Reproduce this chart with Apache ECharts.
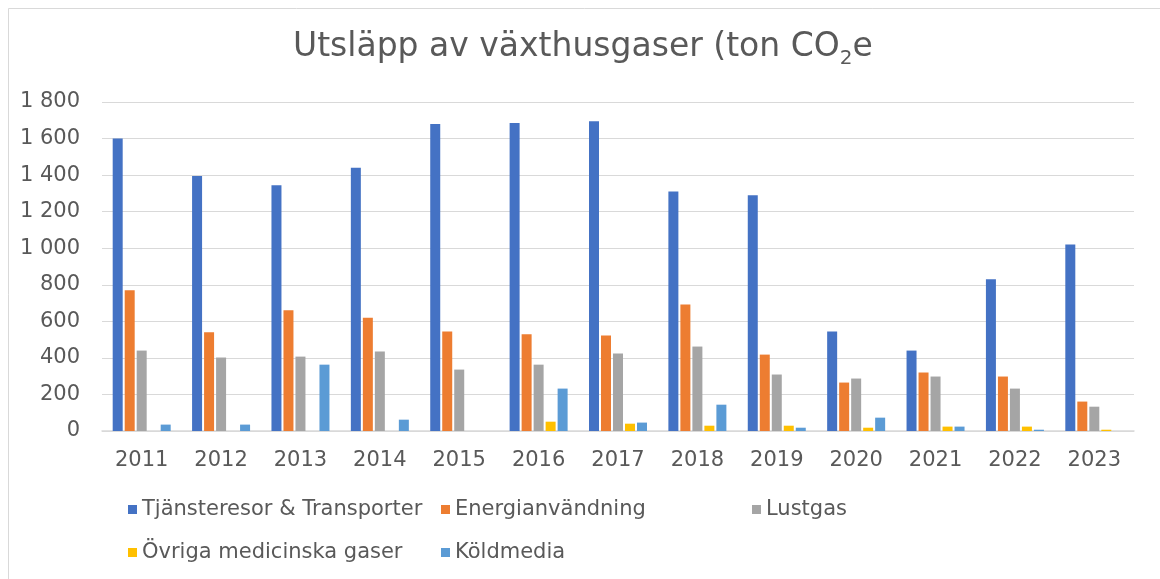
<!DOCTYPE html>
<html>
<head>
<meta charset="utf-8">
<script src="https://cdn.jsdelivr.net/npm/echarts@6/dist/echarts.min.js"></script>
<style>
  html, body { margin: 0; padding: 0; background: #fff; }
  #chart { width: 1160px; height: 579px; }
</style>
</head>
<body>
<div id="chart"></div>
<script>
// Values (ton CO2e)
const years = ['2011', '2012', '2013', '2014', '2015', '2016', '2017', '2018', '2019', '2020', '2021', '2022', '2023'];
const tjansteresor = [1600, 1395, 1345, 1440, 1680, 1685, 1695, 1310, 1290, 545, 440, 830, 1020];
const energi = [770, 540, 660, 620, 545, 530, 522, 692, 418, 265, 320, 298, 161];
const lustgas = [440, 402, 407, 435, 336, 363, 424, 462, 309, 287, 298, 232, 133];
const ovriga = [0, 0, 0, 0, 0, 51, 40, 29, 29, 18, 24, 24, 7];
const koldmedia = [35, 35, 363, 62, 0, 232, 46, 144, 18, 73, 24, 7, 0];

const seriesDefs = [
    { name: 'Tjänsteresor & Transporter', data: tjansteresor, color: '#4472C4' },
    { name: 'Energianvändning', data: energi, color: '#ED7D31' },
    { name: 'Lustgas', data: lustgas, color: '#A5A5A5' },
    { name: 'Övriga medicinska gaser', data: ovriga, color: '#FFC000' },
    { name: 'Köldmedia', data: koldmedia, color: '#5B9BD5' }
];

const FONT = '"DejaVu Sans", "Liberation Sans", sans-serif';
const TEXT = '#595959';

// one legend box per item so the columns line up like the original
function legendAt(name, left, top) {
    return {
        data: [name],
        left: left,
        top: top,
        padding: 0,
        itemWidth: 9,
        itemHeight: 9,
        itemGap: 5,
        icon: 'rect',
        textStyle: { fontFamily: FONT, fontSize: 21, color: TEXT }
    };
}

const chart = echarts.init(document.getElementById('chart'), null, { renderer: 'canvas' });

chart.setOption({
    animation: false,
    backgroundColor: '#fff',
    graphic: [{
        type: 'rect',
        shape: { x: 8.5, y: 8.5, width: 1300, height: 800 },
        style: { fill: 'none', stroke: '#D9D9D9', lineWidth: 1 },
        silent: true
    }],
    title: {
        text: '{a|Utsläpp av växthusgaser (ton CO}{s|2}{a|e}',
        left: 293,
        top: 26,
        padding: 0,
        textStyle: {
            fontWeight: 'normal',
            rich: {
                a: { fontFamily: FONT, fontSize: 33, fontWeight: 'normal', color: TEXT, lineHeight: 38, verticalAlign: 'bottom' },
                s: { fontFamily: FONT, fontSize: 20, fontWeight: 'normal', color: TEXT, lineHeight: 20, verticalAlign: 'bottom', padding: [0, 0, -5, 0] }
            }
        }
    },
    legend: [
        legendAt(seriesDefs[0].name, 128, 499),
        legendAt(seriesDefs[1].name, 441, 499),
        legendAt(seriesDefs[2].name, 752, 499),
        legendAt(seriesDefs[3].name, 128, 542),
        legendAt(seriesDefs[4].name, 441, 542)
    ],
    grid: { left: 102, right: 26, top: 102, bottom: 148, containLabel: false },
    xAxis: {
        type: 'category',
        data: years,
        axisTick: { show: false },
        axisLine: { lineStyle: { color: '#D9D9D9', width: 1.5 } },
        axisLabel: { fontFamily: FONT, fontSize: 21, color: TEXT, margin: 19 }
    },
    yAxis: {
        type: 'value',
        min: 0,
        max: 1800,
        interval: 200,
        axisLine: { show: false },
        axisTick: { show: false },
        splitLine: { lineStyle: { color: '#D9D9D9', width: 1 } },
        axisLabel: {
            fontFamily: FONT,
            fontSize: 21,
            color: TEXT,
            margin: 22,
            formatter: v => String(v).replace(/\B(?=(\d{3})+(?!\d))/g, ' ')
        }
    },
    series: seriesDefs.map(s => ({
        name: s.name,
        type: 'bar',
        data: s.data,
        barWidth: 10,
        barGap: '20%',
        itemStyle: { color: s.color }
    }))
});
</script>
</body>
</html>
